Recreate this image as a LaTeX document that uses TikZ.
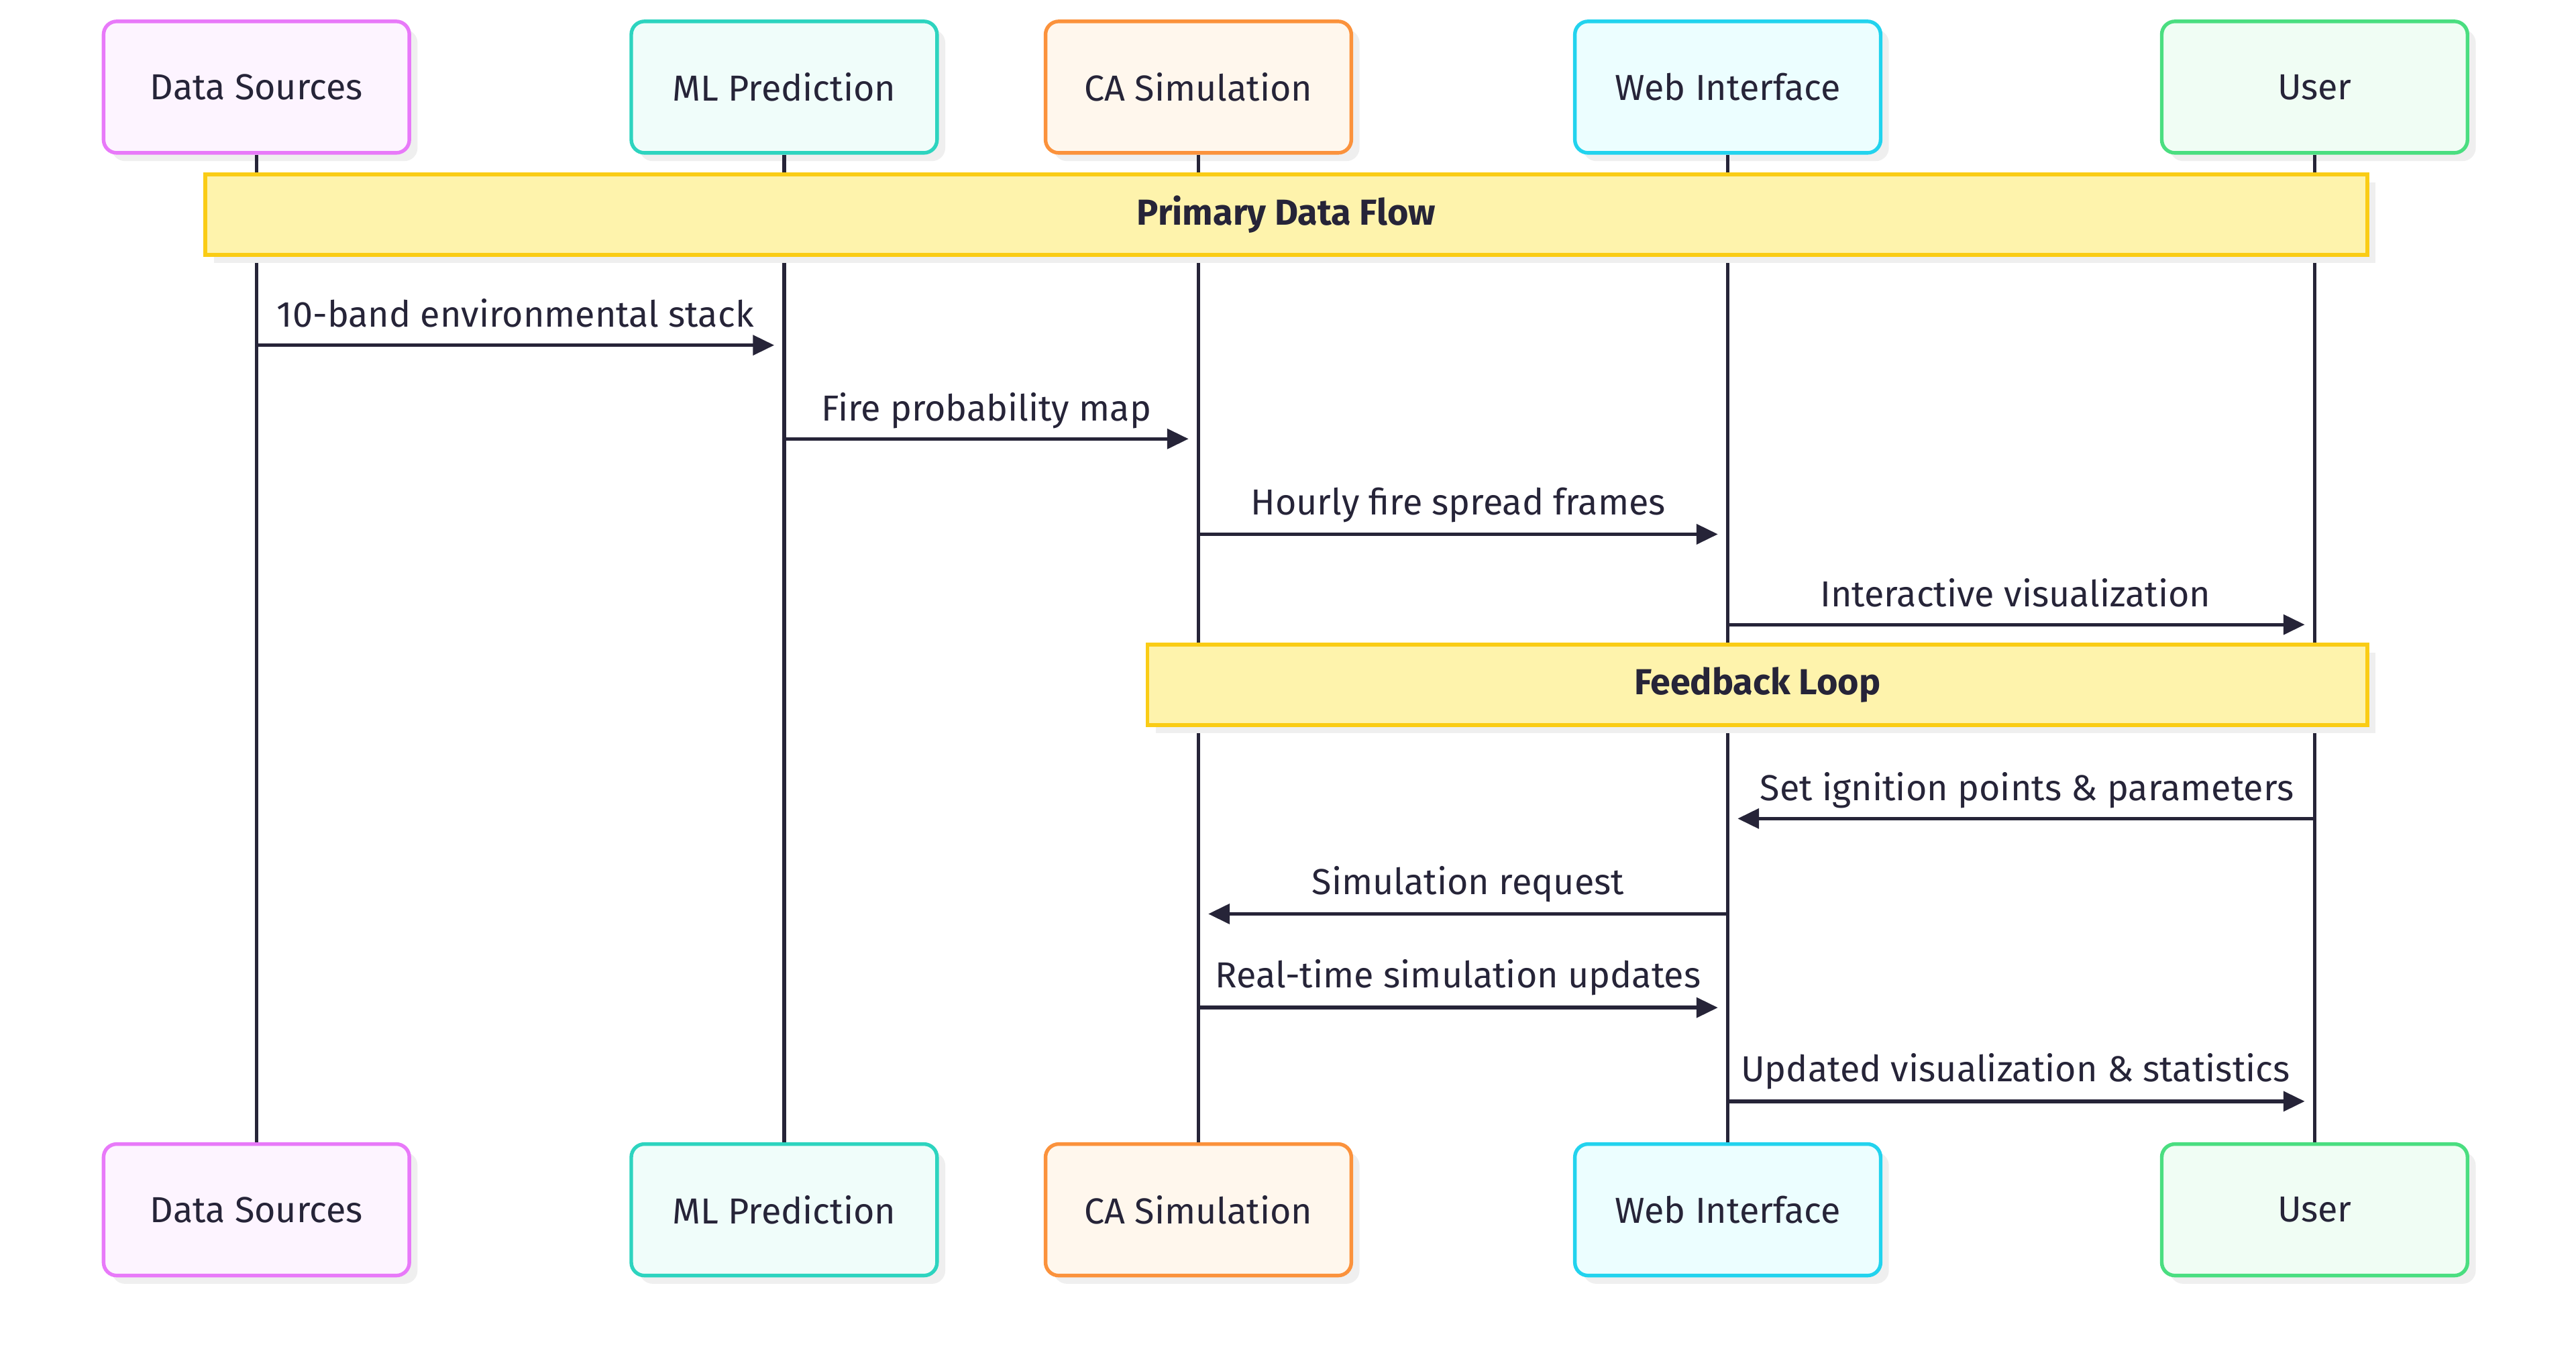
\documentclass[tikz,border=0pt]{standalone}
\usepackage{fontspec}
\setmainfont{Fira Sans}
\usetikzlibrary{arrows.meta,calc}
\definecolor{ink}{HTML}{262438}
\definecolor{shadowc}{HTML}{EFEFEF}
\definecolor{dsB}{HTML}{E879F9}\definecolor{dsF}{HTML}{FDF4FF}
\definecolor{mlB}{HTML}{2DD4BF}\definecolor{mlF}{HTML}{F0FDFA}
\definecolor{caB}{HTML}{FB923C}\definecolor{caF}{HTML}{FFF7ED}
\definecolor{wiB}{HTML}{22D3EE}\definecolor{wiF}{HTML}{ECFEFF}
\definecolor{usB}{HTML}{4ADE80}\definecolor{usF}{HTML}{F0FDF4}
\definecolor{noteB}{HTML}{FACC15}\definecolor{noteF}{HTML}{FEF3AC}
\tikzset{
  actor/.style={draw=#1B, fill=#1F, line width=2.2pt, rounded corners=8pt,
    minimum width=186pt, minimum height=80pt, inner sep=0pt,
    font=\fontsize{22}{26}\selectfont, text=ink},
  notebox/.style={draw=noteB, fill=noteF, line width=2.4pt, minimum height=49pt,
    inner sep=0pt, font=\fontsize{22}{26}\selectfont\bfseries, text=ink},
  lifeline/.style={draw=ink, line width=2.2pt},
  msg/.style={draw=ink, line width=2.2pt, -{Triangle[length=13pt,width=12pt]}},
  msglabel/.style={font=\fontsize{22}{26}\selectfont, text=ink, anchor=base, inner sep=0pt},
}
\begin{document}
\begin{tikzpicture}[x=1pt,y=-1pt]
\useasboundingbox (0,0) rectangle (1567,829.2);
% shadows of actor boxes
\foreach \x in {156,477,729,1051,1408}{
  \fill[shadowc, rounded corners=8pt] (\x-93+5,13+5) rectangle (\x+93+5,93+5);
  \fill[shadowc, rounded corners=8pt] (\x-93+5,696+5) rectangle (\x+93+5,776+5);
}
\node[actor=ds] (ds) at (156,53) {Data Sources};
\node[actor=ml] (ml) at (477,53) {ML Prediction};
\node[actor=ca] (ca) at (729,53) {CA Simulation};
\node[actor=wi] (wi) at (1051,53) {Web Interface};
\node[actor=us] (us) at (1408,53) {User};
\node[actor=ds] (ds2) at (156,736) {Data Sources};
\node[actor=ml] (ml2) at (477,736) {ML Prediction};
\node[actor=ca] (ca2) at (729,736) {CA Simulation};
\node[actor=wi] (wi2) at (1051,736) {Web Interface};
\node[actor=us] (us2) at (1408,736) {User};
% lifelines
\foreach \n in {ds,ml,ca,wi,us}{ \draw[lifeline] (\n.south) -- (\n2.north); }
% notes
\fill[shadowc] (130,111) rectangle (1445,160);
\node[notebox, minimum width=1315pt] (n1) at (782.5,130.5) {Primary Data Flow};
\fill[shadowc] (703,397) rectangle (1445,446);
\node[notebox, minimum width=742pt] (n2) at (1069,416.5) {Feedback Loop};
% message coordinates
\coordinate (m1a) at (156,210); \coordinate (m1b) at (471,210);
\coordinate (m2a) at (477,267); \coordinate (m2b) at (723,267);
\coordinate (m3a) at (729,325); \coordinate (m3b) at (1045,325);
\coordinate (m4a) at (1051,380); \coordinate (m4b) at (1402,380);
\coordinate (m5a) at (1408,498); \coordinate (m5b) at (1057,498);
\coordinate (m6a) at (1051,556); \coordinate (m6b) at (735,556);
\coordinate (m7a) at (729,613); \coordinate (m7b) at (1045,613);
\coordinate (m8a) at (1051,670); \coordinate (m8b) at (1402,670);
\draw[msg] (m1a) -- (m1b);
\draw[msg] (m2a) -- (m2b);
\draw[msg] (m3a) -- (m3b);
\draw[msg] (m4a) -- (m4b);
\draw[msg] (m5a) -- (m5b);
\draw[msg] (m6a) -- (m6b);
\draw[msg] (m7a) -- (m7b);
\draw[msg] (m8a) -- (m8b);
\node[msglabel] (l1) at (313.5,199) {10-band environmental stack};
\node[msglabel] (l2) at (600,256) {Fire probability map};
\node[msglabel] (l3) at (887,313) {Hourly fire spread frames};
\node[msglabel] (l4) at (1226,369) {Interactive visualization};
\node[msglabel] (l5) at (1233,487) {Set ignition points \& parameters};
\node[msglabel] (l6) at (893,544) {Simulation request};
\node[msglabel] (l7) at (887,601) {Real-time simulation updates};
\node[msglabel] (l8) at (1226,658) {Updated visualization \& statistics};
\end{tikzpicture}
\end{document}
